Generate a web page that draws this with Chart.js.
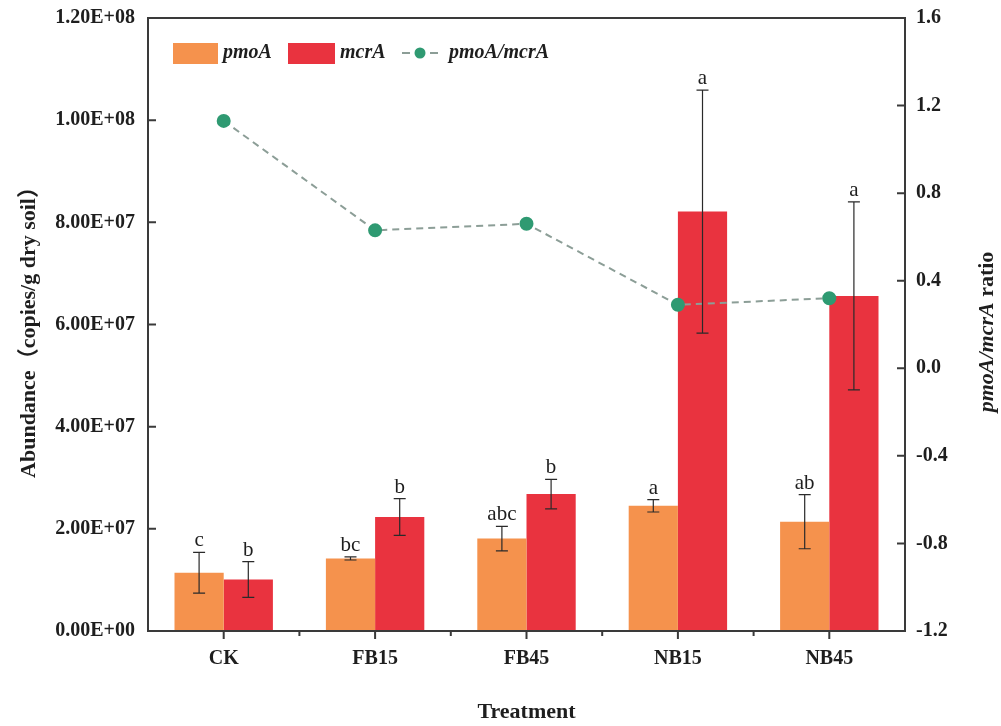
<!DOCTYPE html>
<html>
<head>
<meta charset="utf-8">
<script src="https://cdn.jsdelivr.net/npm/chart.js@4/dist/chart.umd.min.js"></script>
<style>
  html, body { margin: 0; padding: 0; background: #ffffff; }
  #wrap { width: 1001px; height: 726px; }
</style>
</head>
<body>
<div id="wrap"><canvas id="c" width="1001" height="726"></canvas></div>
<script>
// Gene abundance per treatment (copies/g dry soil), mean and standard deviation
const treatments = ['CK', 'FB15', 'FB45', 'NB15', 'NB45'];
const pmoA = [1.14e7, 1.42e7, 1.81e7, 2.45e7, 2.14e7];
const pmoASD = [0.40e7, 0.03e7, 0.24e7, 0.12e7, 0.53e7];
const mcrA = [1.01e7, 2.23e7, 2.68e7, 8.21e7, 6.56e7];
const mcrASD = [0.35e7, 0.36e7, 0.29e7, 2.38e7, 1.84e7];
// pmoA/mcrA ratio (right axis)
const ratio = [1.13, 0.63, 0.66, 0.29, 0.32];
// Significance letters
const pmoALetters = ['c', 'bc', 'abc', 'a', 'ab'];
const mcrALetters = ['b', 'b', 'b', 'a', 'a'];
// Axis tick labels
const abundanceTicks = ['0.00E+00', '2.00E+07', '4.00E+07', '6.00E+07', '8.00E+07', '1.00E+08', '1.20E+08'];
const ratioTicks = ['-1.2', '-0.8', '-0.4', '0.0', '0.4', '0.8', '1.2', '1.6'];

const ORANGE = '#F5924D';
const RED = '#E9333F';
const GREEN = '#2F9A72';
const DASH = '#8C9E97';
const INK = '#1E1E1E';
const AXIS = '#3A3A3A';
const SERIF = '"Liberation Serif", "Times New Roman", serif';
const SERIF_CJK = '"Liberation Serif", "Noto Sans CJK SC", serif';

const decorations = {
  id: 'decorations',
  afterDatasetsDraw(chart) {
    const ctx = chart.ctx;
    const y = chart.scales.y;
    // error bars and significance letters
    const groups = [
      { meta: chart.getDatasetMeta(0), vals: pmoA, sd: pmoASD, letters: pmoALetters },
      { meta: chart.getDatasetMeta(1), vals: mcrA, sd: mcrASD, letters: mcrALetters }
    ];
    ctx.save();
    groups.forEach(g => {
      g.meta.data.forEach((bar, i) => {
        const cx = bar.x;
        const top = y.getPixelForValue(g.vals[i] + g.sd[i]);
        const bot = y.getPixelForValue(g.vals[i] - g.sd[i]);
        ctx.strokeStyle = '#2A2A2A';
        ctx.lineWidth = 1.2;
        ctx.beginPath();
        ctx.moveTo(cx, top); ctx.lineTo(cx, bot);
        ctx.moveTo(cx - 6, top); ctx.lineTo(cx + 6, top);
        ctx.moveTo(cx - 6, bot); ctx.lineTo(cx + 6, bot);
        ctx.stroke();
        ctx.fillStyle = INK;
        ctx.font = '21px ' + SERIF;
        ctx.textAlign = 'center';
        ctx.textBaseline = 'alphabetic';
        ctx.fillText(g.letters[i], cx, top - 6);
      });
    });
    ctx.restore();
  },
  afterDraw(chart) {
    const ctx = chart.ctx;
    const a = chart.chartArea;
    const x = chart.scales.x;
    const y = chart.scales.y;
    const y1 = chart.scales.y1;
    ctx.save();
    // frame
    ctx.strokeStyle = AXIS;
    ctx.lineWidth = 2;
    ctx.strokeRect(a.left, a.top, a.right - a.left, a.bottom - a.top);
    // inward ticks on both value axes
    ctx.beginPath();
    y.ticks.forEach(t => {
      const py = y.getPixelForValue(t.value);
      ctx.moveTo(a.left, py); ctx.lineTo(a.left + 8, py);
    });
    y1.ticks.forEach(t => {
      const py = y1.getPixelForValue(t.value);
      ctx.moveTo(a.right, py); ctx.lineTo(a.right - 8, py);
    });
    // outward major ticks at categories, minor ticks between them
    const n = treatments.length;
    for (let i = 0; i < n; i++) {
      const px = x.getPixelForValue(i);
      ctx.moveTo(px, a.bottom); ctx.lineTo(px, a.bottom + 8);
      if (i < n - 1) {
        const mx = (px + x.getPixelForValue(i + 1)) / 2;
        ctx.moveTo(mx, a.bottom); ctx.lineTo(mx, a.bottom + 5);
      }
    }
    ctx.stroke();

    // axis titles
    ctx.fillStyle = INK;
    ctx.textBaseline = 'middle';
    ctx.font = 'bold 22px ' + SERIF;
    ctx.textAlign = 'center';
    ctx.fillText('Treatment', (a.left + a.right) / 2, 712);

    ctx.save();
    ctx.translate(29, 327);
    ctx.rotate(-Math.PI / 2);
    ctx.font = 'bold 22px ' + SERIF_CJK;
    ctx.fillText('Abundance（copies/g dry soil）', 0, 0);
    ctx.restore();

    ctx.save();
    ctx.translate(987, 332);
    ctx.rotate(-Math.PI / 2);
    const f1 = 'italic bold 22px ' + SERIF;
    const f2 = 'bold 22px ' + SERIF;
    ctx.font = f1; const w1 = ctx.measureText('pmoA/mcrA').width;
    ctx.font = f2; const w2 = ctx.measureText(' ratio').width;
    ctx.textAlign = 'left';
    ctx.font = f1; ctx.fillText('pmoA/mcrA', -(w1 + w2) / 2, 0);
    ctx.font = f2; ctx.fillText(' ratio', -(w1 + w2) / 2 + w1, 0);
    ctx.restore();

    // legend
    const ly = 53;
    ctx.font = 'italic bold 20px ' + SERIF;
    ctx.textAlign = 'left';
    ctx.fillStyle = ORANGE;
    ctx.fillRect(173, 43, 45, 21);
    ctx.fillStyle = INK;
    ctx.fillText(chart.data.datasets[0].label, 223, ly);
    ctx.fillStyle = RED;
    ctx.fillRect(288, 43, 47, 21);
    ctx.fillStyle = INK;
    ctx.fillText(chart.data.datasets[1].label, 340, ly);
    ctx.strokeStyle = DASH;
    ctx.lineWidth = 2;
    ctx.beginPath();
    ctx.moveTo(402, ly); ctx.lineTo(410, ly);
    ctx.moveTo(430, ly); ctx.lineTo(438, ly);
    ctx.stroke();
    ctx.fillStyle = GREEN;
    ctx.beginPath();
    ctx.arc(420, ly, 5.5, 0, Math.PI * 2);
    ctx.fill();
    ctx.fillStyle = INK;
    ctx.fillText(chart.data.datasets[2].label, 449, ly);
    ctx.restore();
  }
};

// value axes: fixed widths, no extra label overhang above/below the plot
const fitValueAxis = w => s => { s.width = w; s.paddingTop = 0; s.paddingBottom = 0; };

new Chart(document.getElementById('c'), {
  data: {
    labels: treatments,
    datasets: [
      { type: 'bar', label: 'pmoA', data: pmoA, backgroundColor: ORANGE, yAxisID: 'y',
        categoryPercentage: 0.65, barPercentage: 1.0, order: 2 },
      { type: 'bar', label: 'mcrA', data: mcrA, backgroundColor: RED, yAxisID: 'y',
        categoryPercentage: 0.65, barPercentage: 1.0, order: 2 },
      { type: 'line', label: 'pmoA/mcrA', data: ratio, yAxisID: 'y1', borderColor: DASH,
        borderWidth: 2, borderDash: [7, 5], pointRadius: 6, pointHoverRadius: 6,
        pointBackgroundColor: GREEN, pointBorderColor: GREEN, tension: 0, fill: false, order: 1 }
    ]
  },
  options: {
    responsive: false,
    animation: false,
    events: [],
    layout: { padding: { top: 18, left: 0, right: 0, bottom: 0 } },
    plugins: { legend: { display: false }, tooltip: { enabled: false } },
    scales: {
      x: {
        type: 'category',
        offset: true,
        grid: { display: false, drawTicks: false },
        border: { display: false },
        ticks: { color: INK, font: { family: SERIF, size: 20, weight: 'bold' }, padding: 16 },
        afterFit: s => { s.height = 95; }
      },
      y: {
        type: 'linear', position: 'left', min: 0, max: 1.2e8,
        grid: { display: false, drawTicks: false },
        border: { display: false },
        ticks: { stepSize: 2e7, color: INK, padding: 13,
          font: { family: SERIF, size: 20, weight: 'bold' },
          callback: (v, i) => abundanceTicks[i] },
        afterFit: fitValueAxis(148)
      },
      y1: {
        type: 'linear', position: 'right', min: -1.2, max: 1.6,
        grid: { display: false, drawTicks: false },
        border: { display: false },
        ticks: { stepSize: 0.4, color: INK, padding: 11,
          font: { family: SERIF, size: 20, weight: 'bold' },
          callback: (v, i) => ratioTicks[i] },
        afterFit: fitValueAxis(96)
      }
    }
  },
  plugins: [decorations]
});
</script>
</body>
</html>
